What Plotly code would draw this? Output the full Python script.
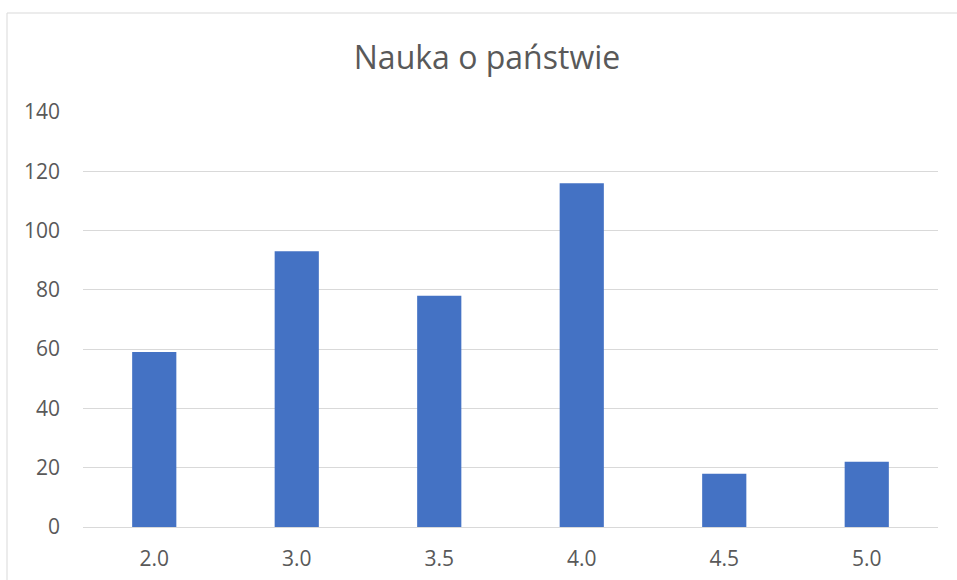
import plotly.graph_objects as go

# grade categories and counts
grades = ["2.0", "3.0", "3.5", "4.0", "4.5", "5.0"]
counts = [59, 93, 78, 116, 18, 22]
y_ticks = [0, 20, 40, 60, 80, 100, 120, 140]

TEXT = "#595959"
GRID = "#d9d9d9"
BAR = "#4472c4"

fig = go.Figure(
    go.Bar(
        x=grades,
        y=counts,
        marker=dict(color=BAR, line=dict(width=0)),
        width=0.31,
        hoverinfo="x+y",
    )
)

# window pixels (page body margin is removed below)
W, H = 957, 580
plot_l, plot_r, plot_t, plot_b = 83, 938, 112, 527
L, R, T, B = plot_l, W - plot_r, plot_t, H - plot_b
pw, ph = W - L - R, H - T - B


def px_x(p):
    return (p - plot_l) / pw


def px_y(p):
    return (plot_b - p) / ph


fig.update_layout(
    width=W,
    height=H,
    margin=dict(l=L, r=R, t=T, b=B, autoexpand=False),
    paper_bgcolor="white",
    plot_bgcolor="white",
    showlegend=False,
    font=dict(family="Open Sans", color=TEXT, size=21),
    title=dict(
        text="Nauka o państwie",
        x=487 / W,
        xanchor="center",
        y=1 - 58 / H,
        yanchor="middle",
        font=dict(size=32, color=TEXT),
    ),
    shapes=[
        dict(
            type="rect",
            xref="paper",
            yref="paper",
            x0=px_x(7),
            x1=px_x(990),
            y0=px_y(620),
            y1=px_y(13),
            line=dict(color=GRID, width=1),
            layer="below",
        )
    ],
)
fig.update_xaxes(
    type="category",
    automargin=False,
    showgrid=False,
    showline=True,
    linecolor=GRID,
    linewidth=1,
    ticks="",
    ticklabelstandoff=13,
    tickfont=dict(size=21, color=TEXT),
)
fig.update_yaxes(
    range=[0, 140],
    tickvals=y_ticks,
    automargin=False,
    showgrid=True,
    gridcolor=GRID,
    gridwidth=1,
    zeroline=False,
    showline=False,
    ticks="",
    ticklabelstandoff=22,
    tickfont=dict(size=21, color=TEXT),
)

fig.write_html(
    "out.html",
    config={"displayModeBar": False},
    post_script="document.body.style.margin='0';document.body.style.overflow='hidden';",
)
